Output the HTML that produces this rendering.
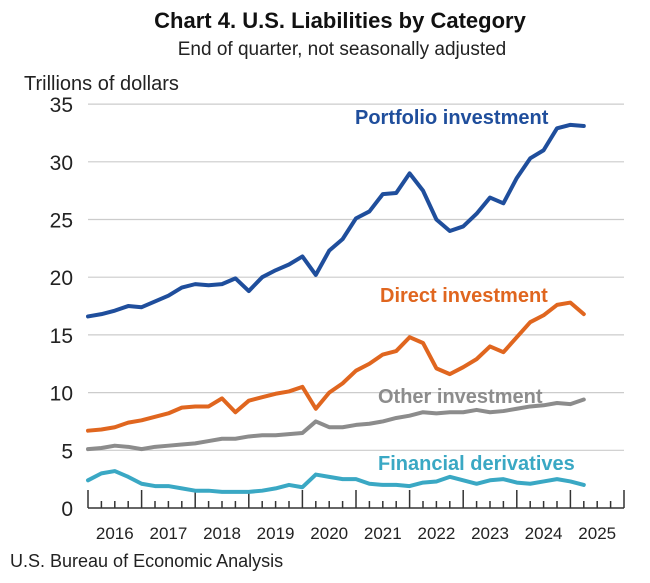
<!DOCTYPE html>
<html><head><meta charset="utf-8"><style>
body{margin:0;background:#fff;width:650px;height:583px;overflow:hidden}
svg{display:block;font-family:"Liberation Sans",sans-serif}
</style></head><body>
<svg width="650" height="583" viewBox="0 0 650 583">
<text x="340" y="28" text-anchor="middle" font-size="22" font-weight="bold" fill="#111">Chart 4. U.S. Liabilities by Category</text>
<text x="342" y="55" text-anchor="middle" font-size="19" fill="#222">End of quarter, not seasonally adjusted</text>
<text x="24" y="90" font-size="20" fill="#222">Trillions of dollars</text>
<g id="grid" stroke="#ccc" stroke-width="1.2"></g>
<g id="ylab" font-size="21" fill="#222" text-anchor="end"></g>
<g id="axis" stroke="#333" stroke-width="1.5" fill="none"></g>
<g id="xlab" font-size="17" fill="#222" text-anchor="middle"></g>
<g id="series" fill="none" stroke-width="4" stroke-linejoin="round" stroke-linecap="round"></g>
<text x="355" y="124" font-size="20" font-weight="bold" fill="#1f4e9c">Portfolio investment</text>
<text x="380" y="302" font-size="20" font-weight="bold" fill="#e0661f">Direct investment</text>
<text x="378" y="403" font-size="20" font-weight="bold" fill="#8c8c8c">Other investment</text>
<text x="378" y="470" font-size="20" font-weight="bold" fill="#3aa8c4">Financial derivatives</text>
<text x="10" y="567" font-size="18" fill="#222">U.S. Bureau of Economic Analysis</text>
</svg>
<script>
const ns="http://www.w3.org/2000/svg";
function el(p,t,a,txt){const e=document.createElementNS(ns,t);for(const k in a)e.setAttribute(k,a[k]);if(txt!=null)e.textContent=txt;document.getElementById(p).appendChild(e);}
const X0=88,X1=624,Y0=508,K=11.54,DX=13.4;
const Y=v=>Y0-v*K;
for(let v=5;v<=35;v+=5)el("grid","line",{x1:X0,x2:X1,y1:Y(v),y2:Y(v)});
for(let v=0;v<=35;v+=5)el("ylab","text",{x:73,y:Y(v)+8},v);
el("axis","line",{x1:X0,x2:X1,y1:Y0,y2:Y0});
for(let i=0;i<=40;i++){const x=X0+i*DX;el("axis","line",{x1:x,x2:x,y1:Y0,y2:Y0-(i%4==0?18:7)});}
for(let k=0;k<10;k++)el("xlab","text",{x:X0+(k+0.5)*4*DX,y:539},2016+k);
const S=[
["#1f4e9c",[16.6,16.8,17.1,17.5,17.4,17.9,18.4,19.1,19.4,19.3,19.4,19.9,18.8,20.0,20.6,21.1,21.8,20.2,22.3,23.3,25.1,25.7,27.2,27.3,29.0,27.5,25.0,24.0,24.4,25.5,26.9,26.4,28.6,30.3,31.0,32.9,33.2,33.1]],
["#e0661f",[6.7,6.8,7.0,7.4,7.6,7.9,8.2,8.7,8.8,8.8,9.5,8.3,9.3,9.6,9.9,10.5,8.6,10.0,10.8,11.9,12.5,13.3,13.6,14.8,14.3,12.1,11.6,12.2,12.9,14.0,13.5,14.8,16.1,16.7,17.6,17.8,16.8]],
["#8c8c8c",[5.1,5.2,5.4,5.3,5.1,5.3,5.4,5.5,5.6,5.8,6.0,6.0,6.2,6.3,6.3,6.4,6.5,7.5,7.0,7.0,7.2,7.3,7.5,7.8,8.0,8.3,8.2,8.3,8.3,8.5,8.3,8.4,8.6,8.8,8.9,9.1,9.0,9.4]],
["#3aa8c4",[2.4,3.0,3.2,2.7,2.1,1.9,1.9,1.7,1.5,1.5,1.4,1.4,1.4,1.5,1.7,2.0,1.8,2.9,2.7,2.5,2.5,2.1,2.0,2.0,1.9,2.2,2.3,2.7,2.4,2.1,2.4,2.5,2.2,2.1,2.3,2.5,2.3,2.0]]];
S[1][1].splice(15,0,10.1);
for(const [c,d] of S){el("series","polyline",{stroke:c,points:d.map((v,i)=>(X0+i*DX)+","+Y(v)).join(" ")});}
</script>
</body></html>
